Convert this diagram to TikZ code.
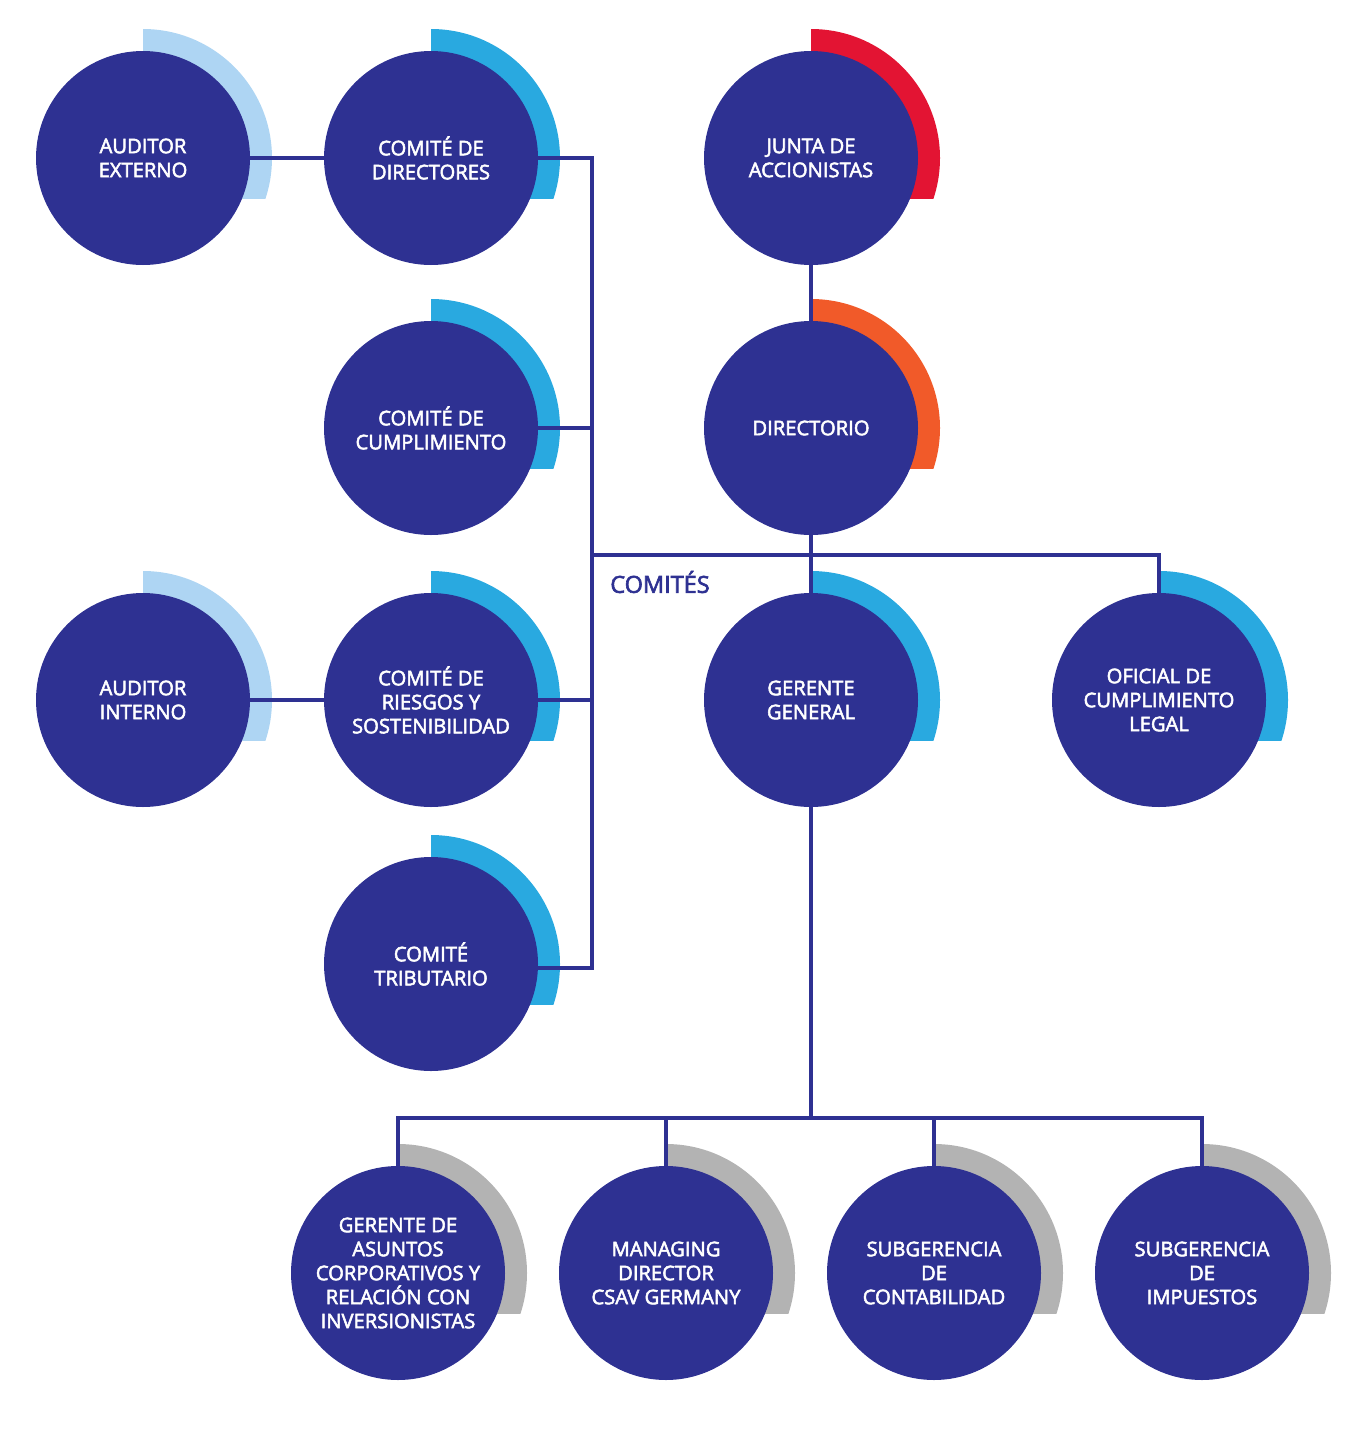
\documentclass[tikz,border=0pt]{standalone}
\usepackage{fontspec}
\newfontfamily\lblfont[FakeBold=2.6]{Open Sans}
\setmainfont{Open Sans}
\definecolor{navy}{HTML}{2E3192}
\definecolor{cyanarc}{HTML}{29A9E0}
\definecolor{lightarc}{HTML}{AED5F3}
\definecolor{redarc}{HTML}{E31433}
\definecolor{orangearc}{HTML}{F15A29}
\definecolor{grayarc}{HTML}{B3B3B3}
\pgfdeclarelayer{bg}
\pgfsetlayers{bg,main}
\tikzset{
  circ/.style={circle, fill=navy, minimum size=214pt, inner sep=0pt, text=white, align=center,
    font=\lblfont\fontsize{20.2}{24}\selectfont},
  conn/.style={draw=navy, line width=3.2pt},
}
\newcommand\ringarc[2]{%
  \begin{pgfonlayer}{bg}
  \begin{scope}[shift={(#1.center)}]
    \clip (0,-140) rectangle (140,40);
    \fill[#2] (0,0) circle (129pt);
  \end{scope}
  \end{pgfonlayer}}
\begin{document}
\begin{tikzpicture}[x=1pt,y=-1pt]
\useasboundingbox (0,0) rectangle (1362,1432);
% nodes
\node[circ] (aext) at (143,158) {AUDITOR\\EXTERNO};
\node[circ] (cdir) at (431,158) {COMITÉ DE\\DIRECTORES};
\node[circ] (junta) at (811,158) {JUNTA DE\\ACCIONISTAS};
\node[circ] (ccum) at (431,428) {COMITÉ DE\\CUMPLIMIENTO};
\node[circ] (dir) at (811,428) {DIRECTORIO};
\node[circ] (aint) at (143,700) {AUDITOR\\INTERNO};
\node[circ] (cries) at (431,700) {COMITÉ DE\\RIESGOS Y\\SOSTENIBILIDAD};
\node[circ] (ger) at (811,700) {GERENTE\\GENERAL};
\node[circ] (ofi) at (1159,700) {OFICIAL DE\\CUMPLIMIENTO\\LEGAL};
\node[circ] (ctri) at (431,964) {COMITÉ\\TRIBUTARIO};
\node[circ] (b1) at (398,1273) {GERENTE DE\\ASUNTOS\\CORPORATIVOS Y\\RELACIÓN CON\\INVERSIONISTAS};
\node[circ] (b2) at (666,1273) {MANAGING\\DIRECTOR\\CSAV GERMANY};
\node[circ] (b3) at (934,1273) {SUBGERENCIA\\DE\\CONTABILIDAD};
\node[circ] (b4) at (1202,1273) {SUBGERENCIA\\DE\\IMPUESTOS};
\node[text=navy, font=\lblfont\fontsize{23.5}{24}\selectfont] (comites) at (660,582) {COMITÉS};
% arcs
\ringarc{aext}{lightarc}
\ringarc{aint}{lightarc}
\ringarc{cdir}{cyanarc}
\ringarc{ccum}{cyanarc}
\ringarc{cries}{cyanarc}
\ringarc{ctri}{cyanarc}
\ringarc{junta}{redarc}
\ringarc{dir}{orangearc}
\ringarc{ger}{cyanarc}
\ringarc{ofi}{cyanarc}
\ringarc{b1}{grayarc}
\ringarc{b2}{grayarc}
\ringarc{b3}{grayarc}
\ringarc{b4}{grayarc}
% connectors
\coordinate (busT) at (592,158);
\coordinate (busB) at (592,968);
\coordinate (busJ) at (592,555);
\coordinate (gbus) at (811,1118);
\draw[conn] (aext.east) -- (cdir.west);
\draw[conn] (aint.east) -- (cries.west);
\draw[conn, line join=miter] (cdir.east) -- (busT) -- (busB) -- (ctri.east |- busB);
\draw[conn] (ccum.east) -- (ccum.east -| busT);
\draw[conn] (cries.east) -- (cries.east -| busT);
\draw[conn] (junta.south) -- (dir.north);
\draw[conn] (dir.south) -- (ger.north);
\draw[conn, line join=miter] (busJ) -| (ofi.north);
\draw[conn] (ger.south) -- (gbus);
\draw[conn, line join=miter] (b1.north) |- (gbus);
\draw[conn, line join=miter] (b4.north) |- (gbus);
\draw[conn] (b2.north) -- (b2.north |- gbus);
\draw[conn] (b3.north) -- (b3.north |- gbus);
\end{tikzpicture}
\end{document}
